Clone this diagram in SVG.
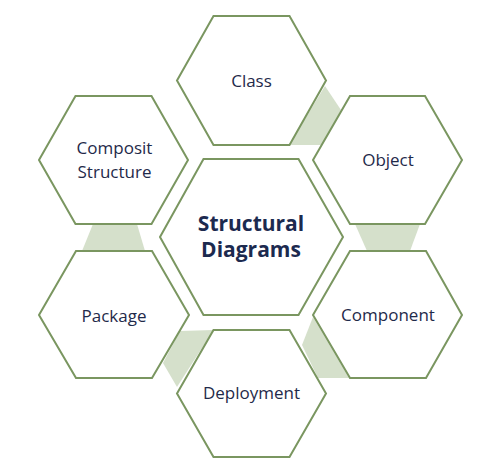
<svg xmlns="http://www.w3.org/2000/svg" width="490" height="472" viewBox="0 0 490 472">
<style>
.hex{fill:#ffffff;stroke:#7a9660;stroke-width:2;stroke-linejoin:miter}
.link{fill:#d5e0cb;stroke:none}
.lbl{font-family:"Open Sans","Liberation Sans",sans-serif;font-size:17px;fill:#1f2a4a;text-anchor:middle}
.main{font-family:"Open Sans","Liberation Sans",sans-serif;font-size:21px;font-weight:bold;fill:#1c2a4f;text-anchor:middle}
</style>
<rect width="490" height="472" fill="#ffffff"/>
<g id="connectors">
<polygon class="link" points="325,86 341,110 322,145 289,145"/>
<polygon class="link" points="355,224 420,224 410,251 367,251"/>
<polygon class="link" points="93,224 137,224 145,251 82,251"/>
<polygon class="link" points="180,331 213.5,330 177,387 163,363"/>
<polygon class="link" points="313,317 349,378 318,378 302,345"/>
</g>
<g id="class">
<polygon class="hex" points="177,80.5 213.5,16 289.5,16 326,80.5 289.5,145 213.5,145"/>
<text class="lbl" x="251.5" y="87">Class</text>
</g>
<g id="object">
<polygon class="hex" points="313,160 350,96 425,96 462,160 425,224 350,224"/>
<text class="lbl" x="388" y="166">Object</text>
</g>
<g id="composit-structure">
<polygon class="hex" points="39,160 75.5,96 151.5,96 188,160 151.5,224 75.5,224"/>
<text class="lbl" x="114.5" y="154">Composit</text>
<text class="lbl" x="114.5" y="177.5">Structure</text>
</g>
<g id="structural-diagrams">
<polygon class="hex" points="160,237 203.5,159 298.5,159 343,237 298.5,315 203.5,315"/>
<text class="main" x="251" y="231">Structural</text>
<text class="main" x="251" y="257">Diagrams</text>
</g>
<g id="package">
<polygon class="hex" points="39,315 76,251 152,251 189,315 152,378 76,378"/>
<text class="lbl" x="114" y="321.5">Package</text>
</g>
<g id="component">
<polygon class="hex" points="313,315 350,251 426,251 462,315 426,378 350,378"/>
<text class="lbl" x="388" y="320.5">Component</text>
</g>
<g id="deployment">
<polygon class="hex" points="177,393.5 213.5,330 289.5,330 326,393.5 289.5,457 213.5,457"/>
<text class="lbl" x="251.5" y="399">Deployment</text>
</g>
</svg>
